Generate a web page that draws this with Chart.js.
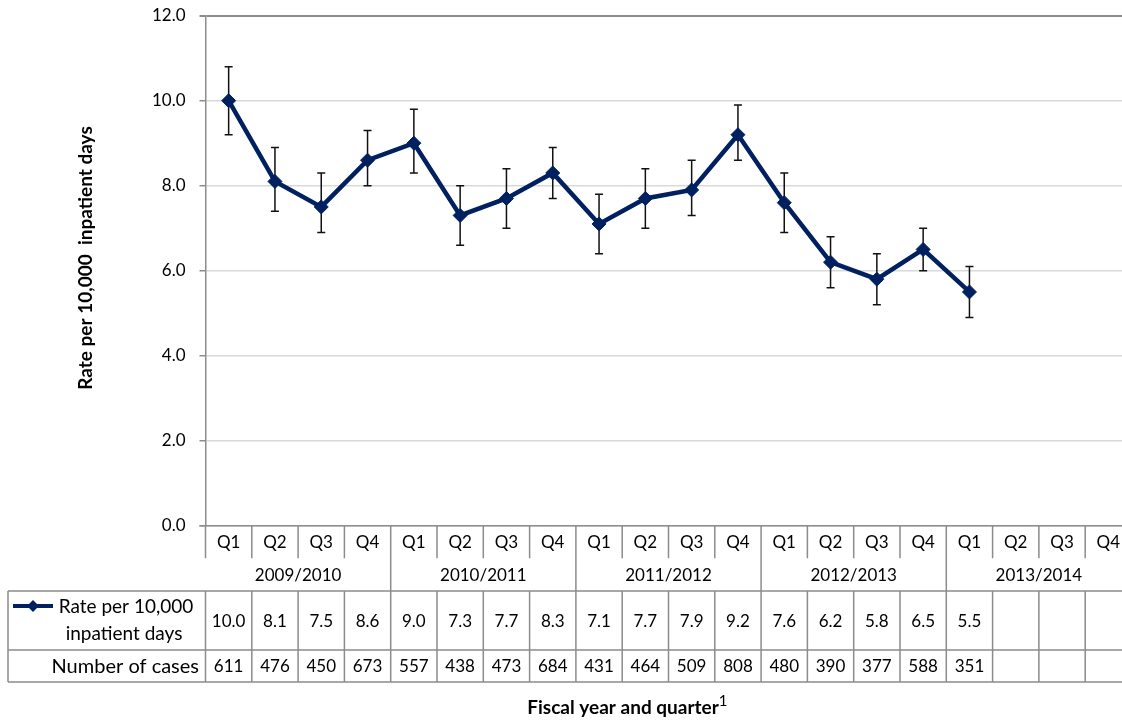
<!DOCTYPE html>
<html lang="en">
<head>
    <meta charset="UTF-8">
    <title>Rate per 10,000 inpatient days by fiscal quarter</title>
    <style>
        html, body {
            margin: 0;
            padding: 0;
            background: #fff;
            overflow: hidden;
        }
        .wrap {
            width: 1140px;
            height: 723px;
        }
    </style>
</head>
<body>
    <div class="wrap">
        <canvas id="rateChart" width="1140" height="723"></canvas>
    </div>

    <script src="https://cdn.jsdelivr.net/npm/chart.js"></script>
    <script>
        // Data
        const quarters = ['Q1', 'Q2', 'Q3', 'Q4', 'Q1', 'Q2', 'Q3', 'Q4', 'Q1', 'Q2', 'Q3', 'Q4',
                          'Q1', 'Q2', 'Q3', 'Q4', 'Q1', 'Q2', 'Q3', 'Q4'];
        const fiscalYears = ['2009/2010', '2010/2011', '2011/2012', '2012/2013', '2013/2014'];
        const rates = [10.0, 8.1, 7.5, 8.6, 9.0, 7.3, 7.7, 8.3, 7.1, 7.7, 7.9, 9.2,
                       7.6, 6.2, 5.8, 6.5, 5.5, null, null, null];
        const cases = [611, 476, 450, 673, 557, 438, 473, 684, 431, 464, 509, 808,
                       480, 390, 377, 588, 351, null, null, null];
        const ciLower = [9.2, 7.4, 6.9, 8.0, 8.3, 6.6, 7.0, 7.7, 6.4, 7.0, 7.3, 8.6,
                         6.9, 5.6, 5.2, 6.0, 4.9, null, null, null];
        const ciUpper = [10.8, 8.9, 8.3, 9.3, 9.8, 8.0, 8.4, 8.9, 7.8, 8.4, 8.6, 9.9,
                         8.3, 6.8, 6.4, 7.0, 6.1, null, null, null];
        const yTicks = [0, 2, 4, 6, 8, 10, 12];

        const FONT = 'Lato, "Open Sans", sans-serif';
        const NAVY = '#002060';
        const LINE_GREY = '#8c8c8c';

        // Error bars, drawn under the line
        const errorBars = {
            id: 'errorBars',
            beforeDatasetsDraw(chart) {
                const ctx = chart.ctx;
                const x = chart.scales.x, y = chart.scales.y;
                ctx.save();
                ctx.strokeStyle = '#111';
                ctx.lineWidth = 1.5;
                ciLower.forEach((lo, i) => {
                    if (lo == null) return;
                    const px = x.getPixelForValue(i);
                    const yl = y.getPixelForValue(lo);
                    const yh = y.getPixelForValue(ciUpper[i]);
                    ctx.beginPath();
                    ctx.moveTo(px, yl); ctx.lineTo(px, yh);
                    ctx.moveTo(px - 4, yl); ctx.lineTo(px + 4, yl);
                    ctx.moveTo(px - 4, yh); ctx.lineTo(px + 4, yh);
                    ctx.stroke();
                });
                ctx.restore();
            }
        };

        // Data table under the plot, plus axis titles
        const dataTable = {
            id: 'dataTable',
            afterDraw(chart) {
                const ctx = chart.ctx;
                const x = chart.scales.x;
                const area = chart.chartArea;
                const step = x.getPixelForValue(1) - x.getPixelForValue(0);
                const left = x.getPixelForValue(0) - step / 2;
                const right = x.getPixelForValue(quarters.length - 1) + step / 2;
                const top = area.bottom;
                const qBottom = top + 32.5;
                const yearBottom = top + 65.3;
                const rateBottom = top + 124.3;
                const caseBottom = top + 156.3;
                const tableLeft = 8;

                ctx.save();
                ctx.strokeStyle = LINE_GREY;
                ctx.lineWidth = 1.5;
                ctx.beginPath();
                // x axis line
                ctx.moveTo(left - 6, top); ctx.lineTo(right, top);
                // row lines
                [yearBottom, rateBottom, caseBottom].forEach(yy => {
                    ctx.moveTo(tableLeft, yy); ctx.lineTo(right, yy);
                });
                ctx.moveTo(tableLeft, yearBottom); ctx.lineTo(tableLeft, caseBottom);
                for (let k = 0; k <= quarters.length; k++) {
                    const bx = left + k * step;
                    ctx.moveTo(bx, top); ctx.lineTo(bx, qBottom);
                    if (k % 4 === 0 && k > 0) {
                        ctx.moveTo(bx, qBottom); ctx.lineTo(bx, yearBottom);
                    }
                    ctx.moveTo(bx, yearBottom); ctx.lineTo(bx, caseBottom);
                }
                ctx.stroke();

                ctx.fillStyle = '#000';
                ctx.textAlign = 'center';
                ctx.textBaseline = 'middle';
                ctx.font = '17px ' + FONT;
                quarters.forEach((q, i) => {
                    const px = x.getPixelForValue(i);
                    ctx.fillText(q, px, (top + qBottom) / 2 + 1);
                    if (rates[i] != null) ctx.fillText(rates[i].toFixed(1), px, (yearBottom + rateBottom) / 2 + 1);
                    if (cases[i] != null) ctx.fillText(String(cases[i]), px, (rateBottom + caseBottom) / 2 + 1);
                });
                fiscalYears.forEach((fy, j) => {
                    const cx = left + (j * 4 + 2) * step;
                    ctx.fillText(fy, cx, (qBottom + yearBottom) / 2 + 1);
                });

                // row headers
                ctx.font = '19px ' + FONT;
                ctx.fillText('Rate per 10,000', 126, yearBottom + 16);
                ctx.fillText('inpatient days', 124, yearBottom + 43);
                ctx.textAlign = 'right';
                ctx.font = '20px ' + FONT;
                ctx.fillText('Number of cases', 199, (rateBottom + caseBottom) / 2 + 1);

                // legend key
                ctx.strokeStyle = NAVY;
                ctx.lineWidth = 4;
                ctx.beginPath();
                ctx.moveTo(13, yearBottom + 15); ctx.lineTo(53, yearBottom + 15);
                ctx.stroke();
                ctx.fillStyle = NAVY;
                ctx.beginPath();
                ctx.moveTo(33, yearBottom + 9); ctx.lineTo(39, yearBottom + 15);
                ctx.lineTo(33, yearBottom + 21); ctx.lineTo(27, yearBottom + 15);
                ctx.closePath();
                ctx.fill();

                // x title with superscript
                ctx.fillStyle = '#000';
                ctx.textAlign = 'left';
                ctx.font = 'bold 19px ' + FONT;
                const title = 'Fiscal year and quarter';
                const tw = ctx.measureText(title).width;
                const tx = 623 - tw / 2;
                ctx.fillText(title, tx, 708);
                ctx.font = '15px ' + FONT;
                ctx.fillText('1', tx + tw, 701);

                // y title
                ctx.font = 'bold 19px ' + FONT;
                ctx.textAlign = 'center';
                ctx.translate(86, 258);
                ctx.rotate(-Math.PI / 2);
                ctx.fillText('Rate per 10,000  inpatient days', 0, 0);
                ctx.restore();
            }
        };

        const ctxLine = document.getElementById('rateChart').getContext('2d');
        const rateChart = new Chart(ctxLine, {
            type: 'line',
            data: {
                labels: quarters,
                datasets: [{
                    label: 'Rate per 10,000 inpatient days',
                    data: rates,
                    borderColor: NAVY,
                    backgroundColor: NAVY,
                    borderWidth: 4.5,
                    pointStyle: 'rectRot',
                    pointRadius: 7,
                    pointBorderWidth: 1,
                    pointBackgroundColor: NAVY,
                    pointBorderColor: NAVY,
                    tension: 0,
                    spanGaps: false
                }]
            },
            options: {
                responsive: false,
                animation: false,
                layout: {
                    padding: { top: 15.7, right: 8.5, left: 0, bottom: 0 }
                },
                plugins: {
                    legend: { display: false },
                    tooltip: { enabled: false }
                },
                scales: {
                    x: {
                        offset: true,
                        grid: { display: false, drawTicks: false },
                        border: { display: false },
                        ticks: { display: false },
                        afterFit(scale) {
                            scale.height = 197.3;
                            scale.paddingLeft = 0;
                            scale.paddingRight = 0;
                        }
                    },
                    y: {
                        min: 0,
                        max: 12,
                        afterBuildTicks(scale) {
                            scale.ticks = yTicks.map(v => ({ value: v }));
                        },
                        afterFit(scale) {
                            scale.width = 205.5;
                            scale.paddingTop = 0;
                            scale.paddingBottom = 0;
                        },
                        ticks: {
                            padding: 14,
                            color: '#000',
                            font: { family: FONT, size: 17 },
                            callback: v => Number(v).toFixed(1)
                        },
                        grid: {
                            color: c => (c.tick && c.tick.value === 12) ? '#8c8c8c' : '#d9d9d9',
                            lineWidth: c => (c.tick && c.tick.value === 12) ? 2 : 1.5,
                            tickColor: LINE_GREY,
                            tickLength: 6
                        },
                        border: { display: true, color: LINE_GREY, width: 1.5 }
                    }
                }
            },
            plugins: [errorBars, dataTable]
        });
    </script>
</body>
</html>
